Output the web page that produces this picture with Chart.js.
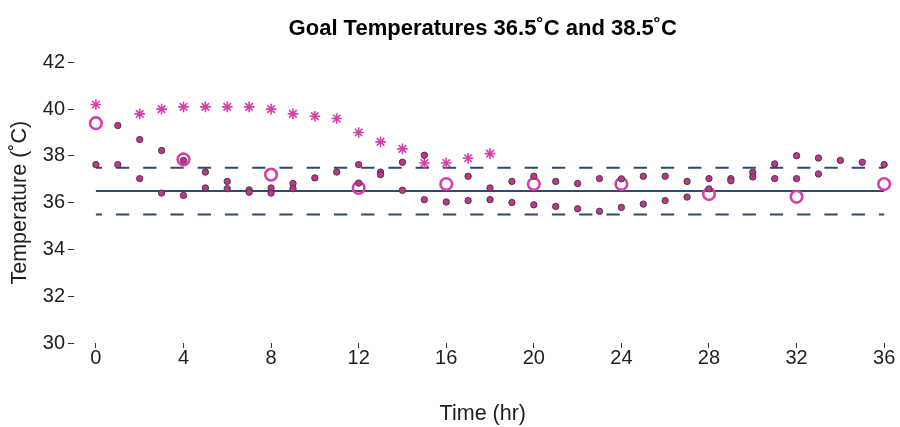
<!DOCTYPE html>
<html>
<head>
<meta charset="utf-8">
<script src="https://cdn.jsdelivr.net/npm/chart.js@4"></script>
<style>
  html, body { margin: 0; padding: 0; background: #fff; }
  #wrap { width: 900px; height: 427px; }
</style>
</head>
<body>
<div id="wrap"><canvas id="tempChart"></canvas></div>
<script>
// データ
const xTicks = [0, 4, 8, 12, 16, 20, 24, 28, 32, 36];
const yTicks = [30, 32, 34, 36, 38, 40, 42];

const starHours = [0, 2, 3, 4, 5, 6, 7, 8, 9, 10, 11, 12, 13, 14, 15, 16, 17, 18];
const starTemps = [40.2, 39.8, 40.0, 40.1, 40.1, 40.1, 40.1, 40.0, 39.8, 39.7, 39.6, 39.0, 38.6, 38.3, 37.7, 37.7, 37.9, 38.1];

const circleHours = [0, 4, 8, 12, 16, 20, 24, 28, 32, 36];
const circleTemps = [39.4, 37.85, 37.2, 36.63, 36.8, 36.8, 36.8, 36.37, 36.25, 36.8];

const dotHours = [0, 1, 1, 2, 2, 3, 3, 4, 4, 5, 5, 6, 6, 7, 7, 8, 8, 9, 9, 10, 11, 12, 12,
  13, 13, 14, 14, 15, 15, 16, 17, 17, 18, 18, 19, 19, 20, 20, 21, 21, 22, 22, 23, 23,
  24, 24, 25, 25, 26, 26, 27, 27, 28, 28, 29, 29, 30, 30, 31, 31, 32, 32, 33, 33, 34, 35, 36];
const dotTemps = [37.63, 39.3, 37.63, 38.7, 37.03, 38.23, 36.41, 37.81, 36.31, 37.31, 36.63,
  36.91, 36.6, 36.55, 36.45, 36.63, 36.41, 36.82, 36.6, 37.06, 37.31, 37.63, 36.84,
  37.31, 37.2, 37.73, 36.53, 38.03, 36.13, 36.03, 37.13, 36.09, 36.63, 36.13, 36.91, 36.01,
  37.13, 35.91, 36.91, 35.84, 36.82, 35.74, 37.03, 35.63, 37.02, 35.8, 37.13, 35.94,
  37.13, 36.09, 36.91, 36.24, 37.03, 36.59, 37.03, 36.94, 37.3, 37.1, 37.66, 37.03,
  38.01, 37.03, 37.91, 37.23, 37.81, 37.73, 37.63];

const goalHours = [0, 36];
const goalTemp = 36.5;
const upperTemp = 37.5;
const lowerTemp = 35.5;

const magenta = '#d63fab';
const navy = '#2d4b6c';
const textColor = '#1e1e1e';

const toPoints = (xs, ys) => xs.map((x, i) => ({ x: x, y: ys[i] }));
const flat = (v) => goalHours.map(h => ({ x: h, y: v }));

Chart.defaults.font.family = '"Liberation Sans", Arial, sans-serif';
Chart.defaults.color = textColor;

const ctx = document.getElementById('tempChart').getContext('2d');
new Chart(ctx, {
  type: 'scatter',
  data: {
    datasets: [
      {
        label: 'dots',
        data: toPoints(dotHours, dotTemps),
        pointStyle: 'circle',
        pointRadius: 3.2,
        backgroundColor: '#c3328f',
        borderColor: '#3a3a3a',
        borderWidth: 0.9
      },
      {
        label: 'circles',
        data: toPoints(circleHours, circleTemps),
        pointStyle: 'circle',
        pointRadius: 5.8,
        backgroundColor: 'rgba(0,0,0,0)',
        borderColor: magenta,
        borderWidth: 2.6
      },
      {
        label: 'stars',
        data: toPoints(starHours, starTemps),
        pointStyle: 'star',
        pointRadius: 5.3,
        borderColor: magenta,
        borderWidth: 1.6
      },
      {
        type: 'line',
        label: 'goal',
        data: flat(goalTemp),
        borderColor: navy,
        borderWidth: 2,
        pointRadius: 0
      },
      {
        type: 'line',
        label: 'upper',
        data: flat(upperTemp),
        borderColor: navy,
        borderWidth: 2,
        borderDash: [13.3, 13.95],
        borderDashOffset: 7.25,
        pointRadius: 0
      },
      {
        type: 'line',
        label: 'lower',
        data: flat(lowerTemp),
        borderColor: navy,
        borderWidth: 2,
        borderDash: [13.3, 13.95],
        borderDashOffset: 7.25,
        pointRadius: 0
      }
    ]
  },
  options: {
    responsive: true,
    maintainAspectRatio: false,
    animation: false,
    layout: { padding: 0 },
    plugins: {
      legend: { display: false },
      tooltip: { enabled: false },
      title: {
        display: true,
        fullSize: false,
        text: 'Goal Temperatures 36.5˚C and 38.5˚C',
        font: { size: 22, weight: 'bold' },
        color: '#000',
        padding: { top: 16, bottom: 20 }
      }
    },
    scales: {
      x: {
        type: 'linear',
        min: -1,
        max: 36.34,
        afterFit: (s) => { s.height = 84; },
        afterBuildTicks: (s) => { s.ticks = xTicks.map(v => ({ value: v })); },
        grid: { drawOnChartArea: false, drawTicks: true, tickLength: 5, color: '#333' },
        border: { display: false },
        ticks: { font: { size: 20 }, padding: -2, maxRotation: 0, autoSkip: false },
        title: { display: true, text: 'Time (hr)', font: { size: 21.5 }, padding: { top: 4, bottom: 0 } }
      },
      y: {
        min: 30,
        max: 42,
        afterFit: (s) => { s.width = 74; },
        afterBuildTicks: (s) => { s.ticks = yTicks.map(v => ({ value: v })); },
        grid: { drawOnChartArea: false, drawTicks: true, tickLength: 6, color: '#333' },
        border: { display: false },
        ticks: { font: { size: 20 }, padding: 3 },
        title: { display: true, text: 'Temperature (˚C)', font: { size: 21.5 }, padding: { top: 7, bottom: 0 } }
      }
    }
  }
});
</script>
</body>
</html>
